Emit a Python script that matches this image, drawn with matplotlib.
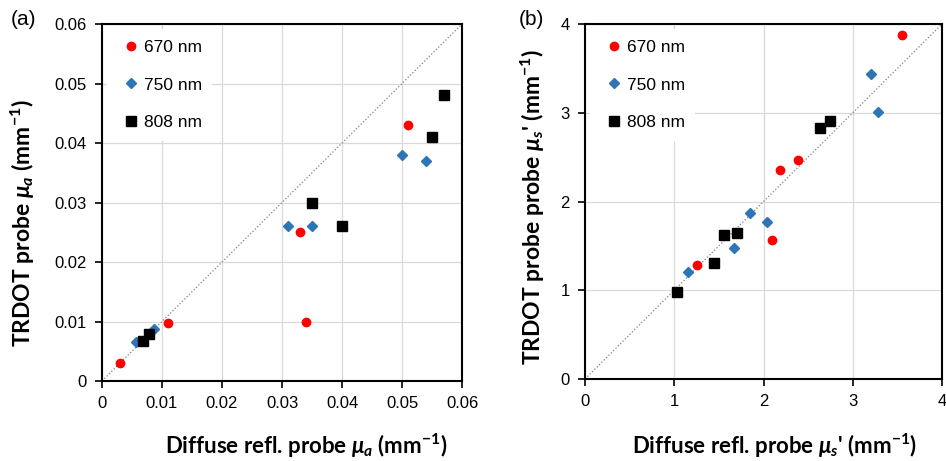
import matplotlib
matplotlib.use("Agg")
import matplotlib.pyplot as plt

plt.rcParams['font.family'] = ['Liberation Sans', 'DejaVu Sans']
plt.rcParams['mathtext.fontset'] = 'custom'
plt.rcParams['mathtext.rm'] = 'Lato:bold'
plt.rcParams['mathtext.it'] = 'Lato:italic:bold'
plt.rcParams['mathtext.bf'] = 'Lato:bold'

# (a) absorption mu_a, diffuse refl. probe (x) vs TRDOT probe (y)
a670_x = [0.003, 0.011, 0.033, 0.034, 0.051]
a670_y = [0.003, 0.0098, 0.025, 0.010, 0.043]
a750_x = [0.0056, 0.0086, 0.031, 0.035, 0.050, 0.054]
a750_y = [0.0066, 0.0087, 0.026, 0.026, 0.038, 0.037]
a808_x = [0.0068, 0.0079, 0.035, 0.040, 0.055, 0.057]
a808_y = [0.0068, 0.0079, 0.030, 0.026, 0.041, 0.048]

# (b) reduced scattering mu_s'
b670_x = [1.26, 2.09, 2.19, 2.39, 3.55]
b670_y = [1.29, 1.57, 2.35, 2.47, 3.88]
b750_x = [1.155, 1.67, 1.85, 2.04, 3.20, 3.28]
b750_y = [1.20, 1.48, 1.87, 1.77, 3.44, 3.01]
b808_x = [1.035, 1.44, 1.56, 1.70, 2.63, 2.74]
b808_y = [0.975, 1.31, 1.62, 1.645, 2.83, 2.91]

labels = ['670 nm', '750 nm', '808 nm']

fig = plt.figure(figsize=(9.46, 4.61), dpi=100)
axA = fig.add_axes([0.1078, 0.1735, 0.3806, 0.7744])
axB = fig.add_axes([0.6184, 0.1779, 0.3774, 0.770])


def draw(ax, sets, lim, step, xlab, ylab, xlab_xy, ylab_xy):
    ax.plot([0, lim], [0, lim], linestyle=':', color='#808080', linewidth=0.9, zorder=1)
    (x1, y1), (x2, y2), (x3, y3) = sets
    ax.plot(x1, y1, 'o', color='#ff0000', markersize=6, label=labels[0], zorder=3)
    ax.plot(x2, y2, 'D', color='#2e75b6', markersize=5.3, label=labels[1], zorder=3)
    ax.plot(x3, y3, 's', color='black', markersize=6.8, label=labels[2], zorder=3)
    ax.set_xlim(0, lim)
    ax.set_ylim(0, lim)
    ticks = [i * step for i in range(int(round(lim / step)) + 1)]
    ax.set_xticks(ticks)
    ax.set_yticks(ticks)
    ax.grid(True, color='#d9d9d9', linewidth=0.9, zorder=0)
    ax.set_axisbelow(True)
    for s in ax.spines.values():
        s.set_linewidth(1.5)
        s.set_color('black')
    ax.tick_params(direction='out', length=5, width=1.2, labelsize=12, pad=6)
    ax.set_xlabel(xlab, fontsize=16, fontweight='bold', family='Lato')
    ax.set_ylabel(ylab, fontsize=16.5, fontweight='bold', family='Lato')
    ax.xaxis.set_label_coords(*xlab_xy)
    ax.yaxis.set_label_coords(*ylab_xy)
    leg = ax.legend(loc='upper left', frameon=True, fontsize=12.5, handletextpad=0.0,
                    labelspacing=1.3, handlelength=1.5, borderaxespad=0.3,
                    fancybox=False, borderpad=0.6, markerscale=1.0)
    leg.get_frame().set_edgecolor('none')
    leg.get_frame().set_facecolor('white')
    leg.get_frame().set_alpha(1)


draw(axA, [(a670_x, a670_y), (a750_x, a750_y), (a808_x, a808_y)], 0.06, 0.01,
     r'Diffuse refl. probe $\mu_a$ (mm$^{\mathbf{-1}}$)',
     r'TRDOT probe $\mu_a$ (mm$^{\mathbf{-1}}$)', (0.567, -0.142), (-0.181, 0.443))
draw(axB, [(b670_x, b670_y), (b750_x, b750_y), (b808_x, b808_y)], 4, 1,
     r"Diffuse refl. probe $\mu_s$' (mm$^{\mathbf{-1}}$)",
     r"TRDOT probe probe $\mu_s$' (mm$^{\mathbf{-1}}$)", (0.532, -0.149), (-0.106, 0.485))
axA.set_xticklabels(['0', '0.01', '0.02', '0.03', '0.04', '0.05', '0.06'])
axA.set_yticklabels(['0', '0.01', '0.02', '0.03', '0.04', '0.05', '0.06'])

fig.text(0.011, 0.957, '(a)', fontsize=15, va='center', ha='left')
fig.text(0.548, 0.957, '(b)', fontsize=15, va='center', ha='left')

fig.savefig('out.png', dpi=100)
